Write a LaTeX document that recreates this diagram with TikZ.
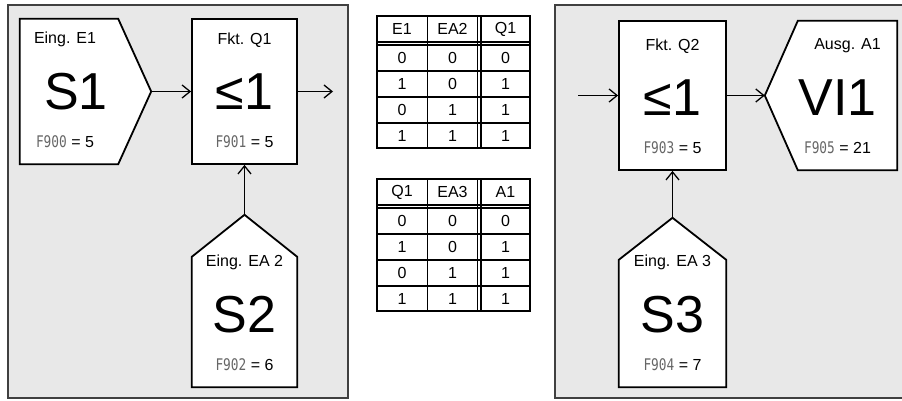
\documentclass[tikz,border=0pt]{standalone}
\usepackage{fontspec}
\setmainfont{Liberation Sans}
\newfontfamily\segfont[FakeStretch=0.8]{DejaVu Sans Mono}
\usetikzlibrary{arrows.meta,positioning}

\begin{document}
\begin{tikzpicture}[
  x=1pt, y=-1pt,
  panel/.style={draw=black!75, fill=black!9, line width=1.4pt},
  blk/.style={draw, fill=white, line width=1.8pt, inner sep=0pt},
  body/.style={inner sep=0pt},
  outline/.style={draw, fill=white, line width=1.8pt, line join=miter},
  lbl/.style={font=\fontsize{16}{19}\selectfont, inner sep=0pt},
  big/.style={font=\fontsize{52}{60}\selectfont, inner sep=0pt},
  cell/.style={font=\fontsize{16}{18}\selectfont, inner sep=0pt},
  flow/.style={line width=1.3pt, -{Straight Barb[length=8pt,width=13pt]}}
]
\newcommand{\segval}[2]{{\color{black!60}\segfont F#1} = #2}
\useasboundingbox (0,0) rectangle (902,401);
\draw[panel] (8,5) rectangle (348,398);
\draw[panel] (555,5) rectangle (910,398);

% left group
\node[body, minimum width=98pt, minimum height=145pt] (s1) at (69,91.5) {};
\coordinate (s1tip) at ([xshift=33pt]s1.east);
\draw[outline] (s1.north west) -- (s1.north east) -- (s1tip) -- (s1.south east) -- (s1.south west) -- cycle;
\node[blk, minimum width=105pt, minimum height=145pt] (q1) at (244.5,91.5) {};
\node[body, minimum width=105pt, minimum height=130pt] (s2) at (244.5,322) {};
\coordinate (s2tip) at ([yshift=42pt]s2.north);
\draw[outline] (s2.north west) -- (s2tip) -- (s2.north east) -- (s2.south east) -- (s2.south west) -- cycle;
\coordinate (q1out) at (333,91.5);

\node[lbl] (s1-t) at ([xshift=-4pt,yshift=125pt]s1.south) {Eing. E1};
\node[big] (s1-m) at ([xshift=7pt,yshift=73pt]s1.south) {S1};
\node[lbl] (s1-f) at ([xshift=-4pt,yshift=23pt]s1.south) {\segval{900}{5}};
\node[lbl] (q1-t) at ([yshift=125pt]q1.south) {Fkt. Q1};
\node[big] (q1-m) at ([yshift=73pt]q1.south) {≤1};
\node[lbl] (q1-f) at ([yshift=23pt]q1.south) {\segval{901}{5}};
\node[lbl] (s2-t) at ([yshift=125pt]s2.south) {Eing. EA 2};
\node[big] (s2-m) at ([yshift=73pt]s2.south) {S2};
\node[lbl] (s2-f) at ([yshift=23pt]s2.south) {\segval{902}{6}};

\draw[flow] (s1tip) -- (q1.west);
\draw[flow] (q1.east) -- (q1out);
\draw[flow] (s2tip) -- (q1.south);

% right group
\node[blk, minimum width=107pt, minimum height=149pt] (q2) at (672.5,95.5) {};
\node[body, minimum width=99pt, minimum height=149pt] (a1) at (847.5,95.5) {};
\coordinate (a1tip) at ([xshift=-33pt]a1.west);
\draw[outline] (a1.north west) -- (a1.north east) -- (a1.south east) -- (a1.south west) -- (a1tip) -- cycle;
\node[body, minimum width=107pt, minimum height=127pt] (s3) at (672.5,323.5) {};
\coordinate (s3tip) at ([yshift=42pt]s3.north);
\draw[outline] (s3.north west) -- (s3tip) -- (s3.north east) -- (s3.south east) -- (s3.south west) -- cycle;
\coordinate (q2in) at (578,95.5);

\node[lbl] (q2-t) at ([yshift=125pt]q2.south) {Fkt. Q2};
\node[big] (q2-m) at ([yshift=73pt]q2.south) {≤1};
\node[lbl] (q2-f) at ([yshift=23pt]q2.south) {\segval{903}{5}};
\node[lbl] (a1-t) at ([yshift=125pt]a1.south) {Ausg. A1};
\node[big] (a1-m) at ([xshift=-10pt,yshift=73pt]a1.south) {VI1};
\node[lbl] (a1-f) at ([xshift=-10pt,yshift=23pt]a1.south) {\segval{905}{21}};
\node[lbl] (s3-t) at ([yshift=125pt]s3.south) {Eing. EA 3};
\node[big] (s3-m) at ([yshift=73pt]s3.south) {S3};
\node[lbl] (s3-f) at ([yshift=23pt]s3.south) {\segval{904}{7}};

\draw[flow] (q2in) -- (q2.west);
\draw[flow] (q2.east) -- (a1tip);
\draw[flow] (s3tip) -- (q2.south);

% truth tables
\foreach \tb/\ty/\ca/\cb/\cc in {ta/16/E1/EA2/Q1, tb/179/Q1/EA3/A1}{
  \draw[line width=1.3pt] (427.5,\ty) -- (427.5,\ty+132)
    (477.5,\ty) -- (477.5,\ty+132) (481,\ty) -- (481,\ty+132)
    (377,\ty+26) -- (530,\ty+26) (377,\ty+29) -- (530,\ty+29)
    (377,\ty+55) -- (530,\ty+55) (377,\ty+81) -- (530,\ty+81)
    (377,\ty+107) -- (530,\ty+107);
  \draw[line width=1.8pt] (377,\ty) rectangle (530,\ty+132);
  \node[cell] (\tb-h1) at (402,\ty+13) {\ca};
  \node[cell] (\tb-h2) at (452.5,\ty+13) {\cb};
  \node[cell] (\tb-h3) at (505.5,\ty+13) {\cc};
  \foreach \r/\va/\vb/\vc in {1/0/0/0, 2/1/0/1, 3/0/1/1, 4/1/1/1}{
    \node[cell] (\tb-\r-1) at (402,\ty+16+26*\r) {\va};
    \node[cell] (\tb-\r-2) at (452.5,\ty+16+26*\r) {\vb};
    \node[cell] (\tb-\r-3) at (505.5,\ty+16+26*\r) {\vc};
  }
}
\end{tikzpicture}
\end{document}
